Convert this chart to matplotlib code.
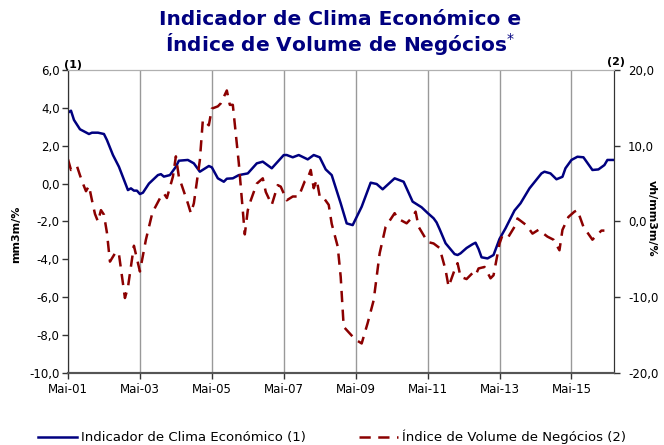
import matplotlib.pyplot as plt
from matplotlib.ticker import FuncFormatter

# Months counted from May 2001
clima_month = [0, 1, 2, 4, 7, 8, 10, 12, 13, 15, 17, 20, 21, 22, 23, 24, 25, 27, 30, 31,
               32, 34, 36, 37, 40, 42, 44, 47, 48, 50, 52, 53, 55, 57, 60, 63, 65, 68,
               72, 73, 75, 77, 80, 82, 84, 86, 88, 91, 93, 95, 98, 101, 103, 105, 109,
               112, 115, 118, 120, 122, 123, 124, 126, 129, 130, 131, 133, 135, 136,
               137, 138, 140, 142, 144, 146, 149, 151, 154, 158, 159, 161, 163, 165,
               166, 168, 170, 172, 175, 177, 179, 180, 182]
clima_value = [3.75, 3.85, 3.36, 2.87, 2.62, 2.69, 2.69, 2.62, 2.3, 1.51, 0.89, -0.34,
               -0.25, -0.37, -0.37, -0.55, -0.48, 0.0, 0.45, 0.5, 0.37, 0.45, 0.89, 1.21,
               1.25, 1.07, 0.63, 0.93, 0.86, 0.28, 0.1, 0.26, 0.28, 0.45, 0.54, 1.07,
               1.16, 0.81, 1.51, 1.51, 1.39, 1.51, 1.28, 1.51, 1.39, 0.75, 0.45, -1.04,
               -2.1, -2.19, -1.22, 0.05, -0.02, -0.3, 0.28, 0.1, -0.95, -1.25, -1.55,
               -1.83, -2.05, -2.4, -3.15, -3.72, -3.77, -3.68, -3.4, -3.2, -3.12,
               -3.45, -3.89, -3.95, -3.77, -2.92, -2.36, -1.42, -1.04, -0.25, 0.54,
               0.63, 0.54, 0.23, 0.36, 0.81, 1.25, 1.42, 1.39, 0.72, 0.75, 0.98, 1.25,
               1.25]

negocios_month = [0, 1, 2, 3, 4, 5, 6, 7, 8, 9, 10, 11, 12, 13, 14, 16, 17, 19, 20, 22,
                  23, 24, 26, 28, 29, 31, 32, 33, 35, 36, 37, 40, 41, 42, 44, 45, 47,
                  48, 50, 51, 53, 54, 55, 57, 59, 60, 61, 63, 65, 66, 68, 70, 71, 73,
                  75, 77, 79, 80, 81, 82, 83, 84, 85, 87, 88, 90, 91, 92, 95, 96, 98,
                  100, 102, 104, 106, 109, 110, 113, 115, 116, 117, 120, 122, 124, 126,
                  127, 129, 130, 131, 133, 135, 136, 137, 139, 141, 142, 144, 145, 147,
                  149, 150, 153, 155, 157, 160, 162, 164, 165, 167, 169, 170, 172, 175,
                  176, 178, 179]
negocios_value = [8.2, 6.8, 7.0, 7.3, 6.1, 5.0, 4.0, 4.7, 2.8, 1.0, 0.0, 1.5, 0.9, -1.5,
                  -5.3, -4.0, -4.3, -10.1, -8.7, -3.2, -4.9, -6.6, -2.4, 0.9, 1.8, 3.3,
                  3.7, 3.1, 5.9, 8.6, 5.9, 2.4, 1.1, 2.4, 8.1, 13.4, 12.7, 14.9, 15.2,
                  15.6, 17.3, 15.4, 15.4, 7.7, -1.7, 1.5, 2.8, 5.0, 5.7, 3.9, 2.2, 4.8,
                  4.6, 2.8, 3.3, 3.3, 5.3, 5.7, 6.8, 4.4, 5.5, 3.3, 3.3, 2.2, -0.3, -3.3,
                  -7.3, -13.9, -15.2, -15.6, -16.1, -13.4, -10.4, -4.2, -0.7, 1.1, 0.4,
                  -0.24, 0.6, 1.3, -0.7, -2.7, -2.9, -3.5, -6.4, -8.6, -6.4, -5.5, -7.3,
                  -7.6, -6.8, -7.1, -6.2, -6.0, -7.5, -7.1, -2.9, -1.8, -2.0, -0.7, 0.4,
                  -0.5, -1.6, -1.1, -2.0, -2.4, -3.8, -1.1, 0.6, 1.3, 1.5, -0.7, -2.4,
                  -2.0, -1.2, -1.2]

tick_month = [0, 24, 48, 72, 96, 120, 144, 168]
tick_labels = ["Mai-01", "Mai-03", "Mai-05", "Mai-07", "Mai-09", "Mai-11", "Mai-13", "Mai-15"]

NAVY = "#000080"
MAROON = "#8B0000"
TICK_FONT = ["Verdana", "DejaVu Sans"]

comma = FuncFormatter(lambda v, p: f"{v:.1f}".replace(".", ","))

fig = plt.figure(figsize=(6.64, 4.45), dpi=100)
ax = fig.add_axes([0.1024, 0.1618, 0.8223, 0.6809])
ax2 = ax.twinx()

line1, = ax.plot(clima_month, clima_value, color=NAVY, lw=1.8, zorder=3,
                 label="Indicador de Clima Económico (1)")
line2, = ax2.plot(negocios_month, negocios_value, color=MAROON, lw=1.8,
                  dashes=(4.5, 3), label="Índice de Volume de Negócios (2)")

ax.set_xlim(0, 182.2)
ax.set_ylim(-10, 6)
ax2.set_ylim(-20, 20)
ax.set_yticks([-10, -8, -6, -4, -2, 0, 2, 4, 6])
ax2.set_yticks([-20, -10, 0, 10, 20])
ax.yaxis.set_major_formatter(comma)
ax2.yaxis.set_major_formatter(comma)
ax.set_xticks(tick_month)
ax.set_xticklabels(tick_labels)
ax.grid(axis="x", color="#999999", lw=1.0)

for a in (ax, ax2):
    a.tick_params(labelsize=8.5, length=4, width=1, colors="#333333", labelcolor="black")
    for lab in a.get_xticklabels() + a.get_yticklabels():
        lab.set_family(TICK_FONT)
    a.spines["top"].set_color("#b0b0b0")
    a.spines["bottom"].set_color("#555555")
    a.spines["bottom"].set_linewidth(1.5)
    a.spines["left"].set_color("#333333")
    a.spines["right"].set_color("#333333")
ax.tick_params(axis="y", pad=2)
ax2.tick_params(axis="y", pad=6)

fig.text(0.025, 0.474, "mm3m/%", fontsize=8, fontweight="bold", rotation=90,
         ha="center", va="center")
fig.text(0.982, 0.51, "vh/mm3m/%", fontsize=8, fontweight="bold", rotation=270,
         ha="center", va="center")
fig.text(0.110, 0.853, "(1)", fontsize=8, fontweight="bold", ha="center", va="center")
fig.text(0.928, 0.861, "(2)", fontsize=8, fontweight="bold", ha="center", va="center")

fig.suptitle("Indicador de Clima Económico e\nÍndice de Volume de Negócios$^{*}$",
             x=0.512, y=0.978, fontsize=14.5, fontweight="bold", color=NAVY,
             family=["Liberation Sans Narrow", "DejaVu Sans"], linespacing=1.1)

fig.legend(handles=[line1, line2], loc="lower center", bbox_to_anchor=(0.5, -0.025),
           ncol=2, frameon=False, fontsize=9.5, handlelength=3, columnspacing=4,
           handletextpad=0.3)

fig.savefig("out.png", dpi=100)
